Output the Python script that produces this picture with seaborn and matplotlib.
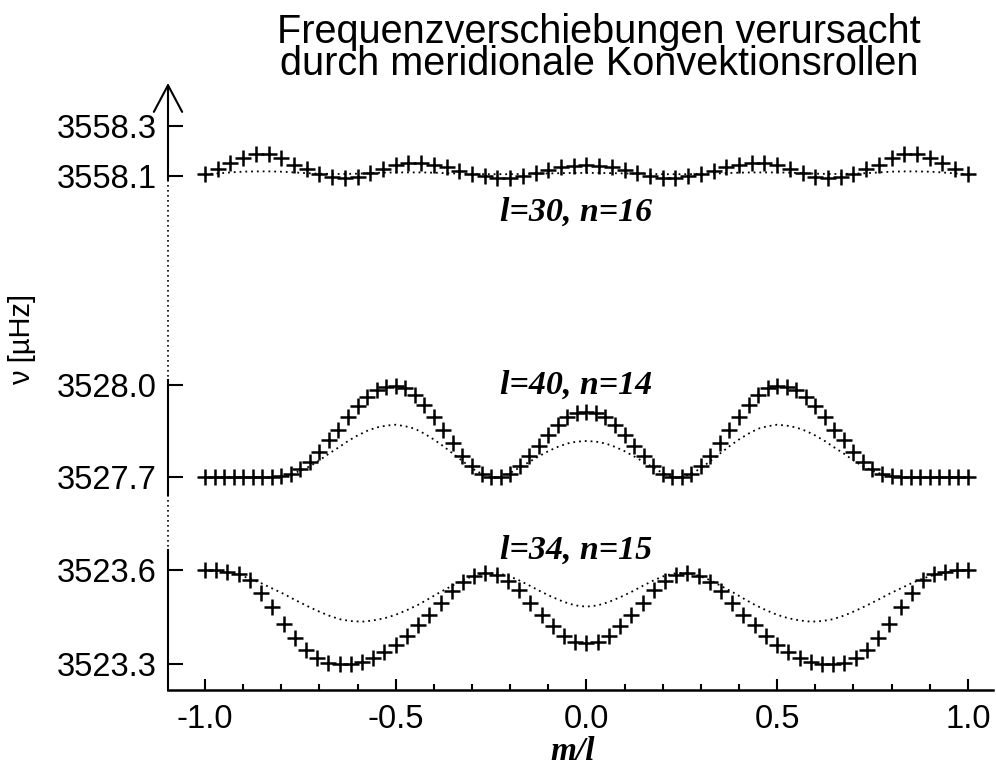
import numpy as np
import pandas as pd
import matplotlib
matplotlib.use("Agg")
import matplotlib.pyplot as plt
import seaborn as sns
from matplotlib.lines import Line2D
from matplotlib.ticker import MultipleLocator, FormatStrFormatter

# ---------------- data ----------------
TITLE_1 = "Frequenzverschiebungen verursacht"
TITLE_2 = "durch meridionale Konvektionsrollen"
X_LABEL = "m/l"
Y_LABEL = "ν [µHz]"

X_TICKS = [-1.0, -0.5, 0.0, 0.5, 1.0]

# l=30, n=16  (m = -30 ... 30)
l_a, n_a = 30, 16
nu_a = [3558.109, 3558.129, 3558.152, 3558.174, 3558.188, 3558.188, 3558.174, 3558.147,
        3558.129, 3558.109, 3558.098, 3558.093, 3558.098, 3558.113, 3558.129, 3558.147,
        3558.152, 3558.152, 3558.147, 3558.139, 3558.120, 3558.109, 3558.102, 3558.095,
        3558.095, 3558.102, 3558.113, 3558.125, 3558.136, 3558.143, 3558.145,
        3558.143, 3558.136, 3558.125, 3558.113, 3558.102, 3558.095, 3558.095, 3558.102,
        3558.109, 3558.120, 3558.139, 3558.147, 3558.152, 3558.152, 3558.147, 3558.129,
        3558.113, 3558.098, 3558.093, 3558.098, 3558.109, 3558.129, 3558.147, 3558.174,
        3558.188, 3558.188, 3558.174, 3558.152, 3558.129, 3558.109]
nu_a_first = [3558.109, 3558.112, 3558.116, 3558.119, 3558.120, 3558.120, 3558.119, 3558.116,
              3558.113, 3558.111, 3558.110, 3558.110, 3558.111, 3558.113, 3558.115, 3558.116,
              3558.116, 3558.116, 3558.115, 3558.113, 3558.111, 3558.110, 3558.109, 3558.109,
              3558.109, 3558.110, 3558.111, 3558.112, 3558.113, 3558.114, 3558.114,
              3558.114, 3558.113, 3558.112, 3558.111, 3558.110, 3558.109, 3558.109, 3558.109,
              3558.110, 3558.111, 3558.113, 3558.115, 3558.116, 3558.116, 3558.116, 3558.115,
              3558.113, 3558.111, 3558.110, 3558.110, 3558.111, 3558.113, 3558.116, 3558.119,
              3558.120, 3558.120, 3558.119, 3558.116, 3558.112, 3558.109]

# l=40, n=14  (m = -40 ... 40)
l_b, n_b = 40, 14
nu_b = [3527.700, 3527.700, 3527.700, 3527.700, 3527.700, 3527.700, 3527.700, 3527.700,
        3527.703, 3527.712, 3527.728, 3527.750, 3527.783, 3527.821, 3527.855, 3527.895,
        3527.932, 3527.960, 3527.984, 3527.995, 3527.997, 3527.989, 3527.967, 3527.935,
        3527.895, 3527.853, 3527.812, 3527.768, 3527.736, 3527.712, 3527.700, 3527.700,
        3527.712, 3527.736, 3527.768, 3527.801, 3527.837, 3527.870, 3527.897, 3527.910,
        3527.913,
        3527.910, 3527.897, 3527.870, 3527.837, 3527.801, 3527.768, 3527.736, 3527.712,
        3527.700, 3527.700, 3527.712, 3527.736, 3527.768, 3527.812, 3527.853, 3527.895,
        3527.935, 3527.967, 3527.989, 3527.997, 3527.995, 3527.984, 3527.960, 3527.932,
        3527.895, 3527.855, 3527.821, 3527.783, 3527.750, 3527.728, 3527.712, 3527.703,
        3527.700, 3527.700, 3527.700, 3527.700, 3527.700, 3527.700, 3527.700, 3527.700]
nu_b_first = [3527.700, 3527.700, 3527.700, 3527.700, 3527.700, 3527.700, 3527.700, 3527.700,
              3527.702, 3527.710, 3527.721, 3527.736, 3527.755, 3527.777, 3527.797, 3527.818,
              3527.836, 3527.851, 3527.862, 3527.868, 3527.871, 3527.866, 3527.858, 3527.842,
              3527.823, 3527.801, 3527.777, 3527.753, 3527.729, 3527.712, 3527.701, 3527.701,
              3527.714, 3527.732, 3527.750, 3527.768, 3527.785, 3527.799, 3527.810, 3527.816,
              3527.818,
              3527.816, 3527.810, 3527.799, 3527.785, 3527.768, 3527.750, 3527.732, 3527.714,
              3527.701, 3527.701, 3527.712, 3527.729, 3527.753, 3527.777, 3527.801, 3527.823,
              3527.842, 3527.858, 3527.866, 3527.871, 3527.868, 3527.862, 3527.851, 3527.836,
              3527.818, 3527.797, 3527.777, 3527.755, 3527.736, 3527.721, 3527.710, 3527.702,
              3527.700, 3527.700, 3527.700, 3527.700, 3527.700, 3527.700, 3527.700, 3527.700]

# l=34, n=15  (m = -34 ... 34)
l_c, n_c = 34, 15
nu_c = [3523.600, 3523.600, 3523.595, 3523.586, 3523.568, 3523.528, 3523.482, 3523.428,
        3523.382, 3523.346, 3523.320, 3523.304, 3523.299, 3523.299, 3523.306, 3523.320,
        3523.337, 3523.360, 3523.390, 3523.423, 3523.457, 3523.496, 3523.532, 3523.562,
        3523.582, 3523.589, 3523.584, 3523.565, 3523.535, 3523.496, 3523.455, 3523.420,
        3523.390, 3523.371, 3523.367,
        3523.371, 3523.390, 3523.420, 3523.455, 3523.496, 3523.535, 3523.565, 3523.584,
        3523.589, 3523.582, 3523.562, 3523.532, 3523.496, 3523.457, 3523.423, 3523.390,
        3523.360, 3523.337, 3523.320, 3523.306, 3523.299, 3523.299, 3523.304, 3523.320,
        3523.346, 3523.382, 3523.428, 3523.482, 3523.528, 3523.568, 3523.586, 3523.595,
        3523.600, 3523.600]
nu_c_first = [3523.600, 3523.598, 3523.592, 3523.584, 3523.573, 3523.558, 3523.541, 3523.524,
              3523.505, 3523.487, 3523.470, 3523.455, 3523.443, 3523.437, 3523.435, 3523.439,
              3523.446, 3523.457, 3523.472, 3523.489, 3523.509, 3523.530, 3523.549, 3523.568,
              3523.582, 3523.590, 3523.590, 3523.582, 3523.567, 3523.549, 3523.530, 3523.513,
              3523.498, 3523.487, 3523.483,
              3523.487, 3523.498, 3523.513, 3523.530, 3523.549, 3523.567, 3523.582, 3523.590,
              3523.590, 3523.582, 3523.568, 3523.549, 3523.530, 3523.509, 3523.489, 3523.472,
              3523.457, 3523.446, 3523.439, 3523.435, 3523.437, 3523.443, 3523.455, 3523.470,
              3523.487, 3523.505, 3523.524, 3523.541, 3523.558, 3523.573, 3523.584, 3523.592,
              3523.598, 3523.600]

ticks_a = [3558.1, 3558.3]
ticks_b = [3527.7, 3528.0]
ticks_c = [3523.3, 3523.6]

# ---------------- style ----------------
sns.set_theme(style="white")
plt.rcParams["font.family"] = ["Liberation Sans", "DejaVu Sans"]
plt.rcParams["axes.unicode_minus"] = False

W, H = 996, 773
fig = plt.figure(figsize=(W / 100, H / 100), dpi=100)
fig.patch.set_facecolor("white")


def rect(x0, y0, x1, y1):
    return [x0 / W, 1 - y1 / H, (x1 - x0) / W, (y1 - y0) / H]


XL, XR = 168, 993
XLIM = (-1.097, 1.066)

groups = [
    dict(l=l_a, n=n_a, nu=nu_a, nu1=nu_a_first, ticks=ticks_a, box=(83, 180),
         ylim=(3558.086, 3558.470), lab_y=212),
    dict(l=l_b, n=n_b, nu=nu_b, nu1=nu_b_first, ticks=ticks_b, box=(380, 495),
         ylim=(3527.6425, 3528.0163), lab_y=385),
    dict(l=l_c, n=n_c, nu=nu_c, nu1=nu_c_first, ticks=ticks_c, box=(550, 690),
         ylim=(3523.217, 3523.6638), lab_y=550),
]

axes = []
for i, g in enumerate(groups):
    ax = fig.add_axes(rect(XL, g["box"][0], XR, g["box"][1]))
    ax.set_facecolor("none")
    m = np.arange(-g["l"], g["l"] + 1)
    df = pd.DataFrame({"x": m / g["l"], "nu": g["nu"], "nu1": g["nu1"]})
    sns.lineplot(data=df, x="x", y="nu1", ax=ax, color="black",
                 linewidth=1.3, linestyle=(0, (1, 2.2)), clip_on=False)
    sns.scatterplot(data=df, x="x", y="nu", ax=ax, marker="+", s=120,
                    color="black", linewidth=1.8, clip_on=False, zorder=3)
    ax.set_xlim(*XLIM)
    ax.set_ylim(*g["ylim"])
    ax.set_yticks(g["ticks"])
    ax.yaxis.set_major_formatter(FormatStrFormatter("%.1f"))
    ax.tick_params(axis="y", direction="in", length=11, width=1.5,
                   labelsize=23.5, pad=8, left=True, colors="black")
    ax.set_xlabel("")
    ax.set_ylabel("")
    for s in ["top", "right"]:
        ax.spines[s].set_visible(False)
    ax.spines["left"].set_linewidth(1.5)
    ax.spines["left"].set_color("black")
    if i < 2:
        ax.spines["bottom"].set_visible(False)
        ax.set_xticks([])
    axes.append(ax)
    fig.text(500 / W, 1 - g["lab_y"] / H, f"l={g['l']}, n={g['n']}",
             fontfamily="Liberation Serif", fontweight="bold", fontstyle="italic",
             fontsize=24.5, ha="left", va="center", color="black")

# top axis with arrow
ax1 = axes[0]
ax1.spines["left"].set_visible(False)
ax1.annotate("", xy=(0, 1), xytext=(0, 0), xycoords="axes fraction",
             arrowprops=dict(arrowstyle="->,head_length=1.6,head_width=0.85",
                             lw=1.5, color="black", shrinkA=0, shrinkB=0))

# bottom x axis
ax3 = axes[2]
ax3.set_xticks(X_TICKS)
ax3.xaxis.set_minor_locator(MultipleLocator(0.1))
ax3.xaxis.set_major_formatter(FormatStrFormatter("%.1f"))
ax3.tick_params(axis="x", which="major", direction="in", length=8, width=1.5,
                labelsize=23.5, pad=10, bottom=True, colors="black")
ax3.tick_params(axis="x", which="minor", direction="in", length=4, width=1.5,
                bottom=True, colors="black")
ax3.spines["bottom"].set_linewidth(1.8)
ax3.spines["bottom"].set_color("black")
ax3.set_xlabel(X_LABEL, fontfamily="Liberation Serif", fontweight="bold",
               fontstyle="italic", fontsize=24, color="black")
ax3.xaxis.set_label_coords((573 - XL) / (XR - XL), -(752 - 690) / 140)
ax3.xaxis.label.set_verticalalignment("center")

# dotted breaks of the y axis
for y0, y1 in [(180, 380), (495, 550)]:
    fig.add_artist(Line2D([XL / W, XL / W], [1 - y0 / H, 1 - y1 / H],
                          transform=fig.transFigure, color="black",
                          linewidth=1.2, linestyle=(0, (1, 2))))

fig.text(22 / W, 1 - 339 / H, Y_LABEL, rotation=90, fontsize=21,
         ha="center", va="center", color="black")
fig.text(599 / W, 1 - 48 / H, TITLE_1 + "\n" + TITLE_2, fontsize=28.5,
         ha="center", va="center", linespacing=0.78, color="black")

fig.savefig("out.png", dpi=100, facecolor="white")
